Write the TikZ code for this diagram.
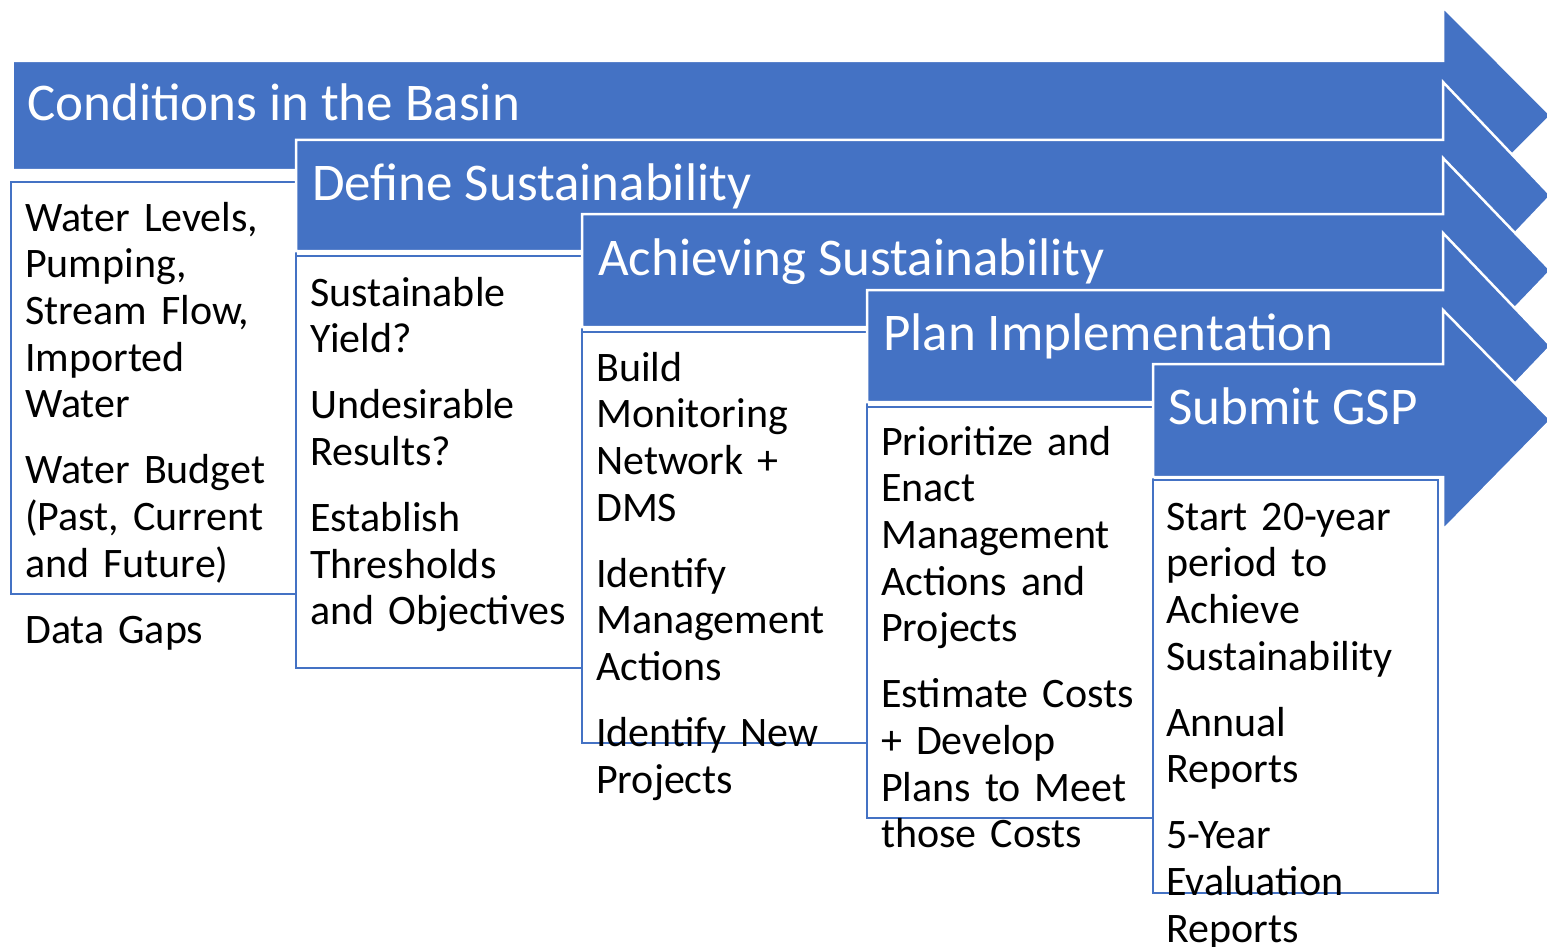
\documentclass[tikz,border=0pt]{standalone}
\usepackage{fontspec}
\setmainfont{Carlito}
\usepackage{tikz}

\definecolor{gspblue}{RGB}{68,114,196}

\begin{document}
\begin{tikzpicture}[x=1pt, y=-1pt,
  stage/.style={fill=gspblue, draw=white, line width=2.5pt, line join=miter},
  panel/.style={draw=gspblue, line width=2.5pt},
  head/.style={anchor=base west, inner sep=0pt, text=white, font=\fontsize{53}{60}\selectfont},
  body/.style={anchor=base west, inner sep=0pt, text width=300pt, align=left, font=\fontsize{42}{46.7}\selectfont}]
\useasboundingbox (0, 0) rectangle (1547, 947);
\clip (0, 0) rectangle (1547, 947);
% stage 1
\draw[stage] (12.5, 61) -- (1443, 61) -- (1443, 7) -- (1551, 115.5) -- (1443, 224) -- (1443, 170) -- (12.5, 170) -- cycle;
\draw[panel] (11, 182) rectangle (296, 594);
\node (basin) at (27, 121) [head] {Conditions in the Basin};
\node (basintxt) at (25, 231) [body] {Water Levels,\\ Pumping,\\ Stream Flow,\\ Imported\\ Water\\[19.3pt] Water Budget\\ (Past, Current\\ and Future)\\[19.3pt] Data Gaps};
% stage 2
\draw[stage] (296, 140) -- (1443, 140) -- (1443, 82) -- (1551, 195.5) -- (1443, 309) -- (1443, 251) -- (296, 251) -- cycle;
\draw[panel] (296, 256) rectangle (582, 668);
\node (define) at (312, 200) [head] {Define Sustainability};
\node (definetxt) at (310, 306) [body] {Sustainable\\ Yield?\\[19.3pt] Undesirable\\ Results?\\[19.3pt] Establish\\ Thresholds\\ and Objectives};
% stage 3
\draw[stage] (582, 214) -- (1443, 214) -- (1443, 158) -- (1551, 270.5) -- (1443, 383) -- (1443, 327) -- (582, 327) -- cycle;
\draw[panel] (582, 332) rectangle (867, 743);
\node (achieve) at (598, 275) [head] {Achieving Sustainability};
\node (achievetxt) at (596, 381) [body] {Build\\ Monitoring\\ Network +\\ DMS\\[19.3pt] Identify\\ Management\\ Actions\\[19.3pt] Identify New\\ Projects};
% stage 4
\draw[stage] (867, 290) -- (1443, 290) -- (1443, 233) -- (1551, 346) -- (1443, 459) -- (1443, 402) -- (867, 402) -- cycle;
\draw[panel] (867, 407) rectangle (1153, 818);
\node (plan) at (883, 350) [head] {Plan Implementation};
\node (plantxt) at (881, 455) [body] {Prioritize and\\ Enact\\ Management\\ Actions and\\ Projects\\[19.3pt] Estimate Costs\\ + Develop\\ Plans to Meet\\ those Costs};
% stage 5
\draw[stage] (1153, 364) -- (1443, 364) -- (1443, 310) -- (1551, 420) -- (1443, 530) -- (1443, 477) -- (1153, 477) -- cycle;
\draw[panel] (1153, 480) rectangle (1438, 893);
\node (submit) at (1168, 424) [head] {Submit GSP};
\node (submittxt) at (1166, 530) [body] {Start 20-year\\ period to\\ Achieve\\ Sustainability\\[19.3pt] Annual\\ Reports\\[19.3pt] 5-Year\\ Evaluation\\ Reports};
\end{tikzpicture}
\end{document}
